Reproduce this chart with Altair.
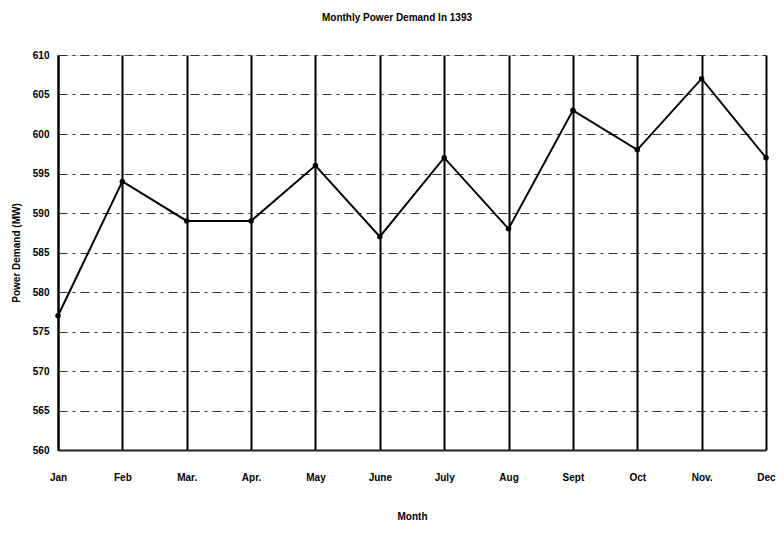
import altair as alt
import pandas as pd

months = ["Jan", "Feb", "Mar.", "Apr.", "May", "June", "July", "Aug", "Sept", "Oct", "Nov.", "Dec"]
demand = [577, 594, 589, 589, 596, 587, 597, 588, 603, 598, 607, 597]
y_ticks = [560, 565, 570, 575, 580, 585, 590, 595, 600, 605, 610]

df = pd.DataFrame({"Month": months, "Demand": demand})

FONT = "Liberation Sans"

x_enc = alt.X(
    "Month:O",
    sort=months,
    scale=alt.Scale(type="point", padding=0),
    axis=alt.Axis(
        title="Month",
        labelAngle=0,
        labelPadding=22,
        titlePadding=29,
        tickSize=0,
        grid=True,
        gridColor="black",
        gridWidth=2,
        gridOpacity=1,
        domain=True,
        domainColor="#222222",
        domainWidth=2,
        labelFont=FONT,
        labelFontSize=10,
        labelFontWeight="bold",
        labelColor="black",
        titleFont=FONT,
        titleFontSize=10,
        titleFontWeight="bold",
        titleColor="black",
    ),
)
y_enc = alt.Y(
    "Demand:Q",
    scale=alt.Scale(domain=[560, 610], nice=False, zero=False),
    axis=alt.Axis(
        title="Power Demand (MW)",
        values=y_ticks,
        tickSize=0,
        labelPadding=9,
        titlePadding=11,
        grid=True,
        gridColor="#333333",
        gridDash=[9, 5, 3, 5],
        gridWidth=1,
        gridOpacity=1,
        domain=True,
        domainColor="black",
        domainWidth=2,
        labelFont=FONT,
        labelFontSize=10,
        labelFontWeight="bold",
        labelColor="black",
        titleFont=FONT,
        titleFontSize=10,
        titleFontWeight="bold",
        titleColor="black",
    ),
)

line = alt.Chart(df).mark_line(color="black", strokeWidth=2).encode(x=x_enc, y=y_enc)
points = alt.Chart(df).mark_point(filled=True, color="black", size=30, opacity=1).encode(x=x_enc, y=y_enc)

chart = (
    alt.layer(line, points)
    .properties(
        width=708,
        height=395,
        autosize=alt.AutoSizeParams(type="none"),
        padding={"left": 50, "top": 47, "right": 10, "bottom": 78},
        title=alt.TitleParams(
            "Monthly Power Demand In 1393",
            fontSize=10,
            fontWeight="bold",
            font=FONT,
            color="black",
            offset=27,
            dx=-15,
        ),
    )
    .configure_view(stroke="black", strokeWidth=1.5)
    .configure(background="white")
)

chart.save("out.html", embed_options={"renderer": "svg", "actions": False})
